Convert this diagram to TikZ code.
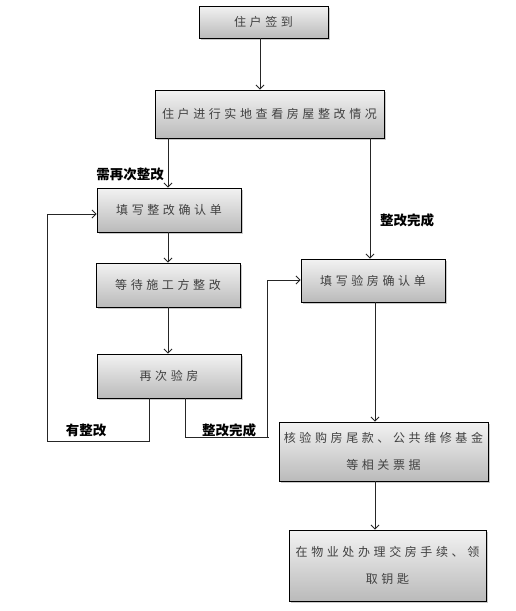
\documentclass[tikz,border=0pt]{standalone}
\usepackage{fontspec}
\usetikzlibrary{arrows.meta,shadows}
\newfontfamily\cjk[LetterSpace=30]{Noto Sans CJK SC}
\newfontfamily\cjklab{Noto Sans CJK SC}
\begin{document}
\begin{tikzpicture}[x=1pt,y=-1pt,
  box/.style={draw=black,line width=0.9pt,top color=black!5,bottom color=black!27,
    drop shadow={shadow xshift=1.5pt,shadow yshift=-1.5pt,fill=black!35,opacity=0.6},
    text=black!75,font=\cjk\fontsize{12}{27}\selectfont,align=center,inner sep=0pt},
  lab/.style={font=\cjklab\bfseries\fontsize{13.5}{16}\selectfont,text=black,inner sep=0pt},
  arr/.style={draw=black!85,line width=0.8pt,-{Straight Barb[length=4pt,width=8pt]}},
  ln/.style={draw=black!85,line width=0.8pt}]
\useasboundingbox (0,0) rectangle (516,611);
\node[box,minimum width=129pt,minimum height=32pt] (b1) at (263.5,22) {住户签到};
\node[box,minimum width=229pt,minimum height=48pt] (b2) at (269.5,114) {住户进行实地查看房屋整改情况};
\node[box,minimum width=144pt,minimum height=44pt] (b3) at (169,210) {填写整改确认单};
\node[box,minimum width=144pt,minimum height=44pt] (b4) at (168,285) {等待施工方整改};
\node[box,minimum width=144pt,minimum height=44pt] (b5) at (169,376) {再次验房};
\node[box,minimum width=144pt,minimum height=43pt] (r1) at (373,280.5) {填写验房确认单};
\node[box,minimum width=209pt,minimum height=59pt] (r2) at (383.5,451.5) {核验购房尾款、公共维修基金\\等相关票据};
\node[box,minimum width=197pt,minimum height=71pt] (r3) at (387.5,565.5) {在物业处办理交房手续、领\\取钥匙};

\node[lab] (l1) at (130,174) {需再次整改};
\node[lab] (l2) at (407,220) {整改完成};
\node[lab] (l3) at (86,430) {有整改};
\node[lab] (l4) at (229,430) {整改完成};

\coordinate (c1) at (260,0);
\coordinate (c2) at (168,0);
\coordinate (c3) at (370,0);
\coordinate (c4) at (149,0);
\coordinate (c5) at (185,0);
\coordinate (c6) at (375,0);

\draw[arr] (b1.south -| c1) -- (b2.north -| c1);
\draw[arr] (b2.south -| c2) -- (b3.north -| c2);
\draw[arr] (b2.south -| c3) -- (r1.north -| c3);
\draw[arr] (b3.south -| c2) -- (b4.north -| c2);
\draw[arr] (b4.south -| c2) -- (b5.north -| c2);
\draw[arr] (r1.south -| c6) -- (r2.north -| c6);
\draw[arr] (r2.south -| c6) -- (r3.north -| c6);

\coordinate (lp1) at (149,441);
\coordinate (lp2) at (47,441);
\coordinate (lp3) at (47,214);
\draw[ln] (b5.south -| c4) -- (lp1) -- (lp2) -- (lp3);
\draw[arr] (lp3) -- (b3.west |- lp3);

\coordinate (rp1) at (185,437);
\coordinate (rp2) at (269,437);
\coordinate (rp3) at (267,280);
\draw[ln] (b5.south -| c5) -- (rp1) -- (rp2);
\draw[ln] (267,437) -- (rp3);
\draw[arr] (rp3) -- (r1.west |- rp3);
\end{tikzpicture}
\end{document}
